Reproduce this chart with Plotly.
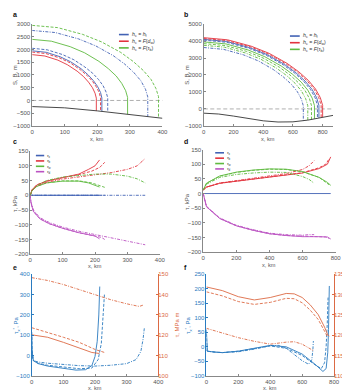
import numpy as np
import plotly.graph_objects as go

# ---------------- data ----------------
SEA_LEVEL = 0
# panel a : bed and surfaces (x km, elevation m)
a_bed_x = [0, 100, 200, 300, 400]
a_bed = [-240, -290, -410, -550, -700]
a_x_bs = [0, 43, 86, 118, 150, 171, 188, 201, 210, 214]
a_s_bs = [1950, 1892, 1716, 1521, 1248, 1014, 780, 546, 312, 98]
a_x_bd = [0, 46, 93, 128, 162, 186, 204, 218, 227, 232]
a_s_bd = [2050, 1989, 1804, 1599, 1312, 1066, 820, 574, 328, 103]
a_x_bdd = [0, 71, 142, 195, 249, 284, 312, 334, 348, 355]
a_s_bdd = [2750, 2668, 2420, 2145, 1760, 1430, 1100, 770, 440, 138]
a_x_rs = [0, 39, 79, 108, 138, 158, 173, 185, 193, 197]
a_s_rs = [1800, 1746, 1584, 1404, 1152, 936, 720, 504, 288, 90]
a_x_rd = [0, 42, 84, 116, 147, 168, 185, 197, 206, 210]
a_s_rd = [1900, 1843, 1672, 1482, 1216, 988, 760, 532, 304, 95]
a_x_gs = [0, 59, 117, 161, 205, 234, 258, 275, 287, 293]
a_s_gs = [2400, 2328, 2112, 1872, 1536, 1248, 960, 672, 384, 120]
a_x_gd = [0, 78, 155, 213, 272, 310, 341, 365, 380, 388]
a_s_gd = [2950, 2862, 2596, 2301, 1888, 1534, 1180, 826, 472, 148]

# panel b
b_bed_x = [0, 100, 200, 300, 400, 500, 600, 700, 800, 870]
b_bed = [-250, -300, -420, -570, -700, -770, -760, -660, -480, -380]
b_x_rs = [0, 160, 320, 440, 560, 640, 704, 752, 784, 800]
b_s_rs = [4200, 4074, 3696, 3276, 2688, 2184, 1680, 1176, 672, 210]
b_x_rd = [0, 158, 316, 435, 553, 632, 695, 743, 774, 790]
b_s_rd = [4150, 4026, 3652, 3237, 2656, 2158, 1660, 1162, 664, 208]
b_x_bs = [0, 155, 310, 427, 543, 620, 682, 729, 760, 775]
b_s_bs = [4100, 3977, 3608, 3198, 2624, 2132, 1640, 1148, 656, 205]
b_x_bd = [0, 153, 306, 421, 536, 612, 673, 719, 750, 765]
b_s_bd = [4050, 3929, 3564, 3159, 2592, 2106, 1620, 1134, 648, 203]
b_x_gs = [0, 149, 298, 410, 522, 596, 656, 700, 730, 745]
b_s_gs = [3950, 3832, 3476, 3081, 2528, 2054, 1580, 1106, 632, 198]
b_x_gd = [0, 145, 290, 399, 508, 580, 638, 682, 711, 725]
b_s_gd = [3850, 3735, 3388, 3003, 2464, 2002, 1540, 1078, 616, 193]
b_x_gdd = [0, 140, 280, 385, 490, 560, 616, 658, 686, 700]
b_s_gdd = [3750, 3638, 3300, 2925, 2400, 1950, 1500, 1050, 600, 188]
b_x_bdd = [0, 134, 268, 369, 469, 536, 590, 630, 657, 670]
b_s_bdd = [3620, 3511, 3186, 2824, 2317, 1882, 1448, 1014, 579, 181]

# panel c : stresses (kPa)
c_x_s = [0, 5, 20, 50, 100, 150, 180, 200, 214]
c_tx_s = [0, 0, 0, 0, 0, 0, 0, 0, 0]
c_tb_s = [0, 18, 35, 48, 60, 72, 88, 100, 120]
c_tw_s = [0, 15, 30, 42, 48, 48, 42, 35, 28]
c_x_d = [0, 5, 20, 50, 100, 150, 190, 215, 230]
c_tx_d = [0, 0, 0, 0, 0, 0, 0, 0, 0]
c_tb_d = [0, 18, 35, 48, 60, 70, 82, 95, 112]
c_tw_d = [0, 15, 30, 42, 49, 49, 42, 33, 27]
c_x_dd = [0, 5, 20, 50, 100, 150, 200, 250, 300, 330, 355]
c_tx_dd = [0, 0, 0, 0, 0, 0, 0, 0, 0, 0, 0]
c_tb_dd = [0, 15, 32, 44, 55, 63, 70, 77, 88, 100, 125]
c_tw_dd = [0, 15, 32, 50, 62, 68, 72, 72, 65, 56, 42]
c_xd_s = [0, 2, 10, 30, 60, 100, 150, 200, 214]
c_td_s = [0, -25, -55, -80, -97, -112, -127, -138, -148]
c_xd_d = [0, 2, 10, 30, 60, 100, 150, 200, 220, 230]
c_td_d = [0, -25, -55, -80, -97, -112, -127, -138, -143, -150]
c_xd_dd = [0, 2, 10, 30, 60, 100, 150, 200, 250, 300, 355]
c_td_dd = [0, -22, -50, -76, -93, -108, -122, -133, -145, -155, -168]

# panel d
d_x_s = [0, 20, 100, 200, 300, 400, 500, 600, 700, 750, 770]
d_tx_s = [0, 0, 0, 0, 0, 0, 0, 0, 0, 0, 0]
d_tb_s = [12, 22, 35, 42, 50, 56, 62, 70, 85, 100, 125]
d_tw_s = [12, 35, 60, 73, 80, 84, 83, 75, 55, 38, 28]
d_td_s = [0, -45, -85, -110, -125, -137, -143, -147, -147, -148, -155]
d_x_d = [0, 20, 100, 200, 300, 400, 500, 600, 700, 740, 760]
d_tb_d = [12, 22, 35, 42, 50, 56, 62, 71, 88, 100, 118]
d_tw_d = [12, 35, 59, 72, 79, 83, 82, 74, 55, 40, 30]
d_td_d = [0, -45, -85, -110, -125, -137, -143, -146, -147, -148, -153]
d_x_dd = [0, 20, 100, 200, 300, 400, 500, 600, 640, 670]
d_tb_dd = [12, 22, 36, 44, 53, 60, 68, 82, 95, 112]
d_tw_dd = [12, 32, 55, 65, 70, 73, 72, 58, 48, 35]
d_td_dd = [0, -43, -83, -108, -123, -135, -140, -142, -140, -140]

# panel e : tau_x (Pa, left) and tau (MPa m, right)
e_x_s = [0, 1, 5, 20, 50, 100, 140, 170, 190, 200, 207, 212, 215]
e_tx_s = [100, 20, -25, -40, -52, -65, -72, -70, -50, -5, 70, 200, 340]
e_x_d = [0, 1, 5, 20, 50, 100, 150, 190, 210, 220, 226, 230]
e_tx_d = [115, 25, -25, -38, -48, -58, -65, -62, -20, 60, 180, 305]
e_x_dd = [0, 1, 5, 20, 50, 100, 150, 200, 250, 300, 330, 345, 352, 356]
e_tx_dd = [30, -5, -25, -32, -38, -45, -50, -52, -48, -40, -20, 20, 80, 135]
e_xr_s = [0, 50, 100, 150, 190, 214]
e_t_s = [120.2, 119.0, 116.5, 113.5, 111.5, 111.0]
e_xr_d = [0, 50, 100, 150, 200, 230]
e_t_d = [123.7, 121.5, 119.0, 116.5, 113.0, 111.5]
e_xr_dd = [0, 50, 100, 150, 200, 250, 300, 340, 355]
e_t_dd = [148.4, 147.0, 145.0, 142.5, 140.0, 137.5, 135.5, 134.2, 135.0]

# panel f
f_x_s = [0, 1, 5, 50, 100, 200, 300, 400, 500, 600, 680, 730, 750, 760, 765, 770]
f_tx_s = [60, 5, -15, -18, -20, -15, -5, 5, 0, -25, -60, -85, -75, -20, 60, 210]
f_x_d = [0, 1, 5, 50, 100, 200, 300, 400, 500, 600, 680, 720, 740, 750, 757, 762]
f_tx_d = [45, 0, -15, -18, -20, -15, -6, 3, -5, -30, -62, -75, -55, 0, 80, 170]
f_x_dd = [0, 1, 5, 50, 100, 200, 300, 400, 450, 500, 550, 600, 640, 660, 667, 670]
f_tx_dd = [-10, -12, -15, -18, -20, -17, -8, 4, 5, -5, -25, -48, -60, -45, -10, 20]
f_xr_s = [0, 100, 200, 300, 400, 500, 550, 600, 650, 700, 740, 760, 770]
f_t_s = [131.9, 131.0, 129.5, 128.7, 129.3, 130.3, 130.2, 129.3, 127.5, 125.1, 122.0, 120.1, 119.8]
f_xr_d = [0, 100, 200, 300, 400, 500, 550, 600, 650, 700, 740, 760]
f_t_d = [130.7, 129.7, 128.3, 127.6, 128.1, 129.1, 129.0, 128.0, 126.2, 123.9, 121.0, 119.5]
f_xr_dd = [0, 100, 200, 300, 400, 500, 550, 600, 640, 670]
f_t_dd = [121.7, 120.5, 119.4, 118.5, 117.8, 118.3, 118.4, 117.8, 116.8, 116.2]

LEG_AB = ["<i>h</i><sub>c</sub> = <i>h</i><sub>f</sub>",
          "<i>h</i><sub>c</sub> = <i>F</i>(<i>d</i><sub>w</sub>)",
          "<i>h</i><sub>c</sub> = <i>F</i>(<i>τ</i><sub>b</sub>)"]
LEG_CD = ["<i>τ</i><sub>x</sub>", "<i>τ</i><sub>b</sub>", "<i>τ</i><sub>w</sub>", "<i>τ</i><sub>d</sub>"]

# ---------------- style ----------------
BLUE = '#4262b4'; RED = '#e2333d'; GREEN = '#5fba3f'; MAG = '#bb52c2'; BLACK = '#333333'
MBLUE = '#2a7bc0'; MORANGE = '#dc6a44'
SOLID = 'solid'; DASH = '3px,1.6px'; DASHDOT = '3px,1.3px,1px,1.3px'
FONT = 'Liberation Sans, Arial, sans-serif'
TICKC = '#555555'
W, H = 350, 390

fig = go.Figure()


def add(x, y, xa, ya, color, dash, name=None, width=0.9):
    fig.add_trace(go.Scatter(x=x, y=y, xaxis=xa, yaxis=ya, mode='lines',
                             line=dict(color=color, dash=dash, width=width),
                             name=name, showlegend=False, hoverinfo='skip'))


def surf(x, s, bx, b):
    return list(x) + [x[-1]], list(s) + [float(np.interp(x[-1], bx, b))]


# panel a
for (x, s, c, d, nm) in [(a_x_bs, a_s_bs, BLUE, SOLID, LEG_AB[0]),
                         (a_x_rs, a_s_rs, RED, SOLID, LEG_AB[1]),
                         (a_x_gs, a_s_gs, GREEN, SOLID, LEG_AB[2]),
                         (a_x_bd, a_s_bd, BLUE, DASH, None),
                         (a_x_bdd, a_s_bdd, BLUE, DASHDOT, None),
                         (a_x_rd, a_s_rd, RED, DASH, None),
                         (a_x_gd, a_s_gd, GREEN, DASH, None)]:
    xx, yy = surf(x, s, a_bed_x, a_bed)
    add(xx, yy, 'x', 'y', c, d, nm)
add(a_bed_x, a_bed, 'x', 'y', BLACK, SOLID, 'bed')

# panel b
for (x, s, c, d, nm) in [(b_x_bs, b_s_bs, BLUE, SOLID, LEG_AB[0]),
                         (b_x_rs, b_s_rs, RED, SOLID, LEG_AB[1]),
                         (b_x_gs, b_s_gs, GREEN, SOLID, LEG_AB[2]),
                         (b_x_bd, b_s_bd, BLUE, DASH, None),
                         (b_x_bdd, b_s_bdd, BLUE, DASHDOT, None),
                         (b_x_rd, b_s_rd, RED, DASH, None),
                         (b_x_gd, b_s_gd, GREEN, DASH, None),
                         (b_x_gdd, b_s_gdd, GREEN, DASHDOT, None)]:
    xx, yy = surf(x, s, b_bed_x, b_bed)
    add(xx, yy, 'x2', 'y2', c, d, nm)
add(b_bed_x, b_bed, 'x2', 'y2', BLACK, SOLID, 'bed')

# panel c
add(c_x_s, c_tx_s, 'x3', 'y3', BLUE, SOLID, LEG_CD[0])
add(c_x_s, c_tb_s, 'x3', 'y3', RED, SOLID, LEG_CD[1])
add(c_x_s, c_tw_s, 'x3', 'y3', GREEN, SOLID, LEG_CD[2])
add(c_xd_s, c_td_s, 'x3', 'y3', MAG, SOLID, LEG_CD[3])
add(c_x_d, c_tx_d, 'x3', 'y3', BLUE, DASH)
add(c_x_d, c_tb_d, 'x3', 'y3', RED, DASH)
add(c_x_d, c_tw_d, 'x3', 'y3', GREEN, DASH)
add(c_xd_d, c_td_d, 'x3', 'y3', MAG, DASH)
add(c_x_dd, c_tx_dd, 'x3', 'y3', BLUE, DASHDOT)
add(c_x_dd, c_tb_dd, 'x3', 'y3', RED, DASHDOT)
add(c_x_dd, c_tw_dd, 'x3', 'y3', GREEN, DASHDOT)
add(c_xd_dd, c_td_dd, 'x3', 'y3', MAG, DASHDOT)

# panel d
add(d_x_s, d_tx_s, 'x4', 'y4', BLUE, SOLID, LEG_CD[0])
add(d_x_s, d_tb_s, 'x4', 'y4', RED, SOLID, LEG_CD[1])
add(d_x_s, d_tw_s, 'x4', 'y4', GREEN, SOLID, LEG_CD[2])
add(d_x_s, d_td_s, 'x4', 'y4', MAG, SOLID, LEG_CD[3])
add(d_x_d, d_tb_d, 'x4', 'y4', RED, DASH)
add(d_x_d, d_tw_d, 'x4', 'y4', GREEN, DASH)
add(d_x_d, d_td_d, 'x4', 'y4', MAG, DASH)
add(d_x_dd, d_tb_dd, 'x4', 'y4', RED, DASHDOT)
add(d_x_dd, d_tw_dd, 'x4', 'y4', GREEN, DASHDOT)
add(d_x_dd, d_td_dd, 'x4', 'y4', MAG, DASHDOT)

# panel e
add(e_xr_s, e_t_s, 'x5', 'y7', MORANGE, SOLID)
add(e_xr_d, e_t_d, 'x5', 'y7', MORANGE, DASH)
add(e_xr_dd, e_t_dd, 'x5', 'y7', MORANGE, DASHDOT)
add(e_x_s, e_tx_s, 'x5', 'y5', MBLUE, SOLID)
add(e_x_d, e_tx_d, 'x5', 'y5', MBLUE, DASH)
add(e_x_dd, e_tx_dd, 'x5', 'y5', MBLUE, DASHDOT)

# panel f
add(f_xr_s, f_t_s, 'x6', 'y8', MORANGE, SOLID)
add(f_xr_d, f_t_d, 'x6', 'y8', MORANGE, DASH)
add(f_xr_dd, f_t_dd, 'x6', 'y8', MORANGE, DASHDOT)
add(f_x_s, f_tx_s, 'x6', 'y6', MBLUE, SOLID)
add(f_x_d, f_tx_d, 'x6', 'y6', MBLUE, DASH)
add(f_x_dd, f_tx_dd, 'x6', 'y6', MBLUE, DASHDOT)


def px_x(a, b):
    return [a / W, b / W]


def px_y(top, bot):
    return [1 - bot / H, 1 - top / H]


def xax(dom, rng, dt, anchor):
    return dict(domain=dom, range=rng, dtick=dt, tick0=0, anchor=anchor, showgrid=False,
                zeroline=False, showline=True, linecolor='#888888', linewidth=0.6,
                ticks='inside', ticklen=2, tickcolor='#888888', tickwidth=0.6,
                tickfont=dict(size=6, color=TICKC, family=FONT), fixedrange=True)


def yax(dom, rng, dt, anchor, color='#888888', tcolor=TICKC, side='left', overlay=None):
    d = dict(domain=dom, range=rng, dtick=dt, anchor=anchor, showgrid=False, zeroline=False,
             showline=True, linecolor=color, linewidth=0.6, ticks='inside', ticklen=2,
             tickcolor=color, tickwidth=0.6, side=side,
             tickfont=dict(size=6, color=tcolor, family=FONT), fixedrange=True)
    if overlay:
        d['overlaying'] = overlay
        d['ticklabelstandoff'] = -2
    return d


ya_ab = px_y(13.3, 116.7)
ya_ef = px_y(267.5, 370.5)
layout = dict(
    width=W, height=H, autosize=False, margin=dict(l=0, r=0, t=0, b=0),
    paper_bgcolor='white', plot_bgcolor='rgba(0,0,0,0)', showlegend=False,
    font=dict(family=FONT, size=6, color=TICKC),
    xaxis=xax(px_x(22.7, 156), [0, 400], 100, 'y'),
    yaxis=yax(ya_ab, [-1000, 3000], 500, 'x'),
    xaxis2=xax(px_x(198.3, 330.6), [0, 870], 200, 'y2'),
    yaxis2=yax(ya_ab, [-1000, 5000], 1000, 'x2'),
    xaxis3=xax(px_x(20.7, 153.3), [0, 400], 100, 'y3'),
    yaxis3=yax(px_y(142.3, 247), [-200, 150], 50, 'x3'),
    xaxis4=xax(px_x(197.7, 333.3), [0, 800], 200, 'y4'),
    yaxis4=yax(px_y(140.7, 245), [-200, 150], 50, 'x4'),
    xaxis5=xax(px_x(22.3, 151.7), [0, 400], 100, 'y5'),
    yaxis5=yax(ya_ef, [-100, 400], 100, 'x5', MBLUE, MBLUE),
    yaxis7=yax(ya_ef, [100, 150], 10, 'x5', MORANGE, MORANGE, 'right', 'y5'),
    xaxis6=xax(px_x(201, 331.7), [0, 800], 200, 'y6'),
    yaxis6=yax(ya_ef, [-100, 250], 50, 'x6', MBLUE, MBLUE),
    yaxis8=yax(ya_ef, [110, 135], 5, 'x6', MORANGE, MORANGE, 'right', 'y6'),
)
fig.update_layout(**layout)

# sea level lines
for xr, yr in [('x domain', 'y'), ('x2 domain', 'y2')]:
    fig.add_shape(type='line', xref=xr, yref=yr, x0=0, x1=1, y0=SEA_LEVEL, y1=SEA_LEVEL,
                  line=dict(color='#9a9a9a', width=0.8, dash='4px,2.5px'), layer='below')


def ann(text, x, y, angle=0, size=6, color=TICKC, bold=False, xanchor='center', align='center'):
    fig.add_annotation(text=('<b>%s</b>' % text) if bold else text, x=x / W, y=1 - y / H,
                       xref='paper', yref='paper', showarrow=False, textangle=angle,
                       xanchor=xanchor, yanchor='middle', align=align, borderpad=0,
                       font=dict(size=size, color=color, family=FONT))


def legend(x0, x1, yc, size, colors, texts):
    lh = 1.3 * size
    n = len(texts)
    for i, c in enumerate(colors):
        y = yc + (i - (n - 1) / 2) * lh
        fig.add_shape(type='line', xref='paper', yref='paper', x0=x0 / W, x1=x1 / W,
                      y0=1 - y / H, y1=1 - y / H, line=dict(color=c, width=1.6))
    ann('<br>'.join(texts), x1 + 2, yc, size=size, color='#333333', xanchor='left', align='left')


legend(111.5, 121.5, 30.7, 5.2, [BLUE, RED, GREEN], LEG_AB)
legend(286.5, 296.5, 32.2, 5.2, [BLUE, RED, GREEN], LEG_AB)
legend(26.5, 35, 155, 4.2, [BLUE, RED, GREEN, MAG], LEG_CD)
legend(210, 219, 152.2, 4.2, [BLUE, RED, GREEN, MAG], LEG_CD)

# panel letters
for t, x, y in [('a', 2, 4), ('b', 177, 4), ('c', 2, 133), ('d', 177, 133), ('e', 2, 260), ('f', 177, 260)]:
    ann(t, x, y, size=7, color='#111111', bold=True, xanchor='left')
# axis titles
for x, y in [(89, 129.5), (264, 129.5), (87, 258.5), (265, 257.5), (87, 382.5), (266, 382.5)]:
    ann('x, km', x, y, size=5.6)
ann('S, B, m', 5, 65, -90)
ann('S, B, m', 181, 65, -90)
ann('τ, kPa', 5, 195, -90)
ann('τ, kPa', 181, 193, -90)
ann('τ<sub>x</sub><sup>*</sup>, Pa', 6, 319, -90, color=MBLUE)
ann('τ<sub>x</sub><sup>*</sup>, Pa', 182, 319, -90, color=MBLUE)
ann('τ, MPa m', 171, 319, -90, color=MORANGE)
ann('τ, MPa m', 346, 319, -90, color=MORANGE)

fig.write_html('out.html')
